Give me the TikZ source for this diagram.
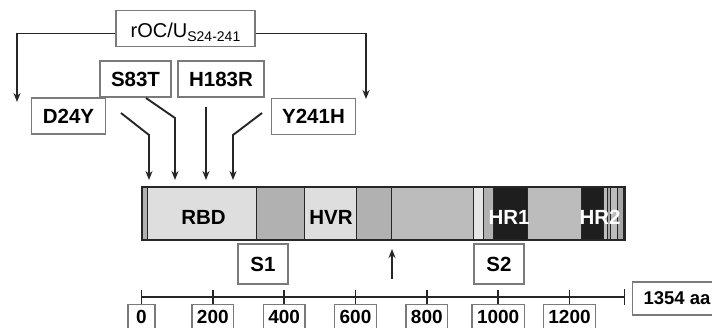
\documentclass[tikz,border=0pt]{standalone}
\usepackage{fontspec}
\setmainfont{Liberation Sans}
\usetikzlibrary{arrows.meta}
\definecolor{boxgray}{HTML}{7A7A7A}
\definecolor{linegray}{HTML}{262626}
\definecolor{domlight}{HTML}{DEDEDE}
\definecolor{domgray}{HTML}{B1B1B1}
\definecolor{domstripe}{HTML}{A6A6A6}
\definecolor{dommid}{HTML}{BCBCBC}
\definecolor{domwhite}{HTML}{E6E6E6}
\definecolor{domblack}{HTML}{1E1E1E}
\begin{document}
\begin{tikzpicture}[
    x=1pt,y=-1pt,
    box/.style={draw=boxgray,line width=1.2pt,fill=white,inner xsep=11pt,inner ysep=0pt,
        minimum height=36pt,font=\fontsize{20.5}{24}\selectfont\bfseries},
    numbox/.style={box,minimum height=25pt,minimum width=27pt,inner xsep=5pt,
        font=\fontsize{19}{22}\selectfont\bfseries},
    conn/.style={draw=linegray,line width=1.9pt},
    lab/.style={font=\fontsize{20.5}{24}\selectfont\bfseries},
    >={Stealth[length=9pt,width=7pt]}
]
\useasboundingbox (0,0) rectangle (712,327);

% domain bar
\foreach \a/\b/\c in {142/147/domgray,147/256/domlight,256/304/domgray,304/356/domlight,
    356/391/domgray,391/473/dommid,473/483/domwhite,483/493/domgray,493/527/domblack,
    527/581/dommid,581/603/domblack,603/607/dommid,607/610/domstripe,610/617/dommid,
    617/623/domstripe}
    \filldraw[fill=\c,draw=linegray,line width=1pt] (\a,187) rectangle (\b,240);
\draw[linegray,line width=1.4pt] (142,187) rectangle (625,240);

\node[lab] (rbd) at (203.5,217) {RBD};
\node[lab] (hvr) at (331,217) {HVR};
\node[lab,text=white] (hr1) at (509,217) {HR1};
\node[lab,text=white] (hr2) at (600,217) {HR2};

% mutations
\node[box,minimum width=139pt,text height=17pt,text depth=0pt,font=\fontsize{20}{24}\selectfont]
    (roc) at (185.5,28.5) {rOC/U\raisebox{-4pt}{\fontsize{14}{16}\selectfont S24-241}};
\node[box] (s83t) at (135.5,79) {S83T};
\node[box] (h183r) at (221,79) {H183R};
\node[box] (d24y) at (68.5,116) {D24Y};
\node[box] (y241h) at (313.5,116.5) {Y241H};

\coordinate (lt) at (17,102);
\coordinate (rt) at (366,99);
\draw[conn,->] ([yshift=-5pt]roc.west) -| (lt);
\draw[conn,->] ([yshift=-5pt]roc.east) -| (rt);

\coordinate (m1) at (121,113);
\coordinate (m2) at (146,98);
\coordinate (m3) at (206,107);
\coordinate (m4) at (262,113);
\draw[conn,->] (m1) -- ++(28,22) -- ++(0,45);
\draw[conn,->] (m2) -- ++(29,20) -- ++(0,62);
\draw[conn,->] (m3) -- ++(0,73);
\draw[conn,->] (m4) -- ++(-29,22) -- ++(0,45);

% subunits and cleavage site
\node[box,minimum width=50pt,minimum height=40pt] (s1) at (263,264) {S1};
\node[box,minimum width=50pt,minimum height=40pt] (s2) at (499,264) {S2};
\coordinate (cleave) at (392,279);
\draw[conn,->] (cleave) -- ++(0,-30);

% scale
\coordinate (ax0) at (141.5,297);
\coordinate (ax1) at (624.5,297);
\draw[conn] (ax0) -- (ax1);
\draw[conn] (ax1) ++(0,-8) -- ++(0,16);
\foreach \n in {0,200,...,1200} {
    \node[numbox,anchor=north] (n\n) at (141.5+0.35667*\n,304) {\n};
    \draw[conn] (n\n.north) -- ++(0,-14);
}
\node[box,anchor=west,minimum height=33pt,inner xsep=11pt,
    font=\fontsize{18.5}{22}\selectfont\bfseries] (len) at (632,298.5) {1354 aa};
\end{tikzpicture}
\end{document}
